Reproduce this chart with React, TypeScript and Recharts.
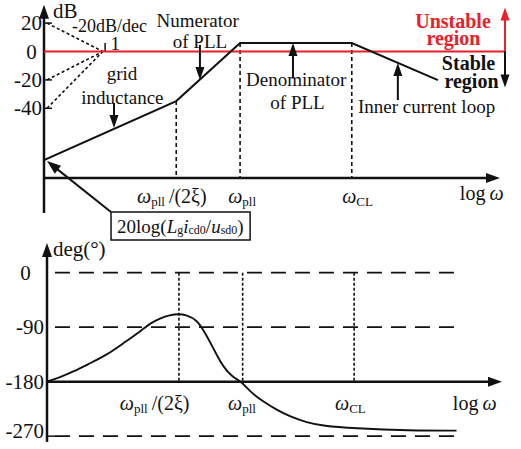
import React from 'react';
import { ComposedChart, Line, XAxis, YAxis, ReferenceLine, ReferenceDot, ReferenceArea } from 'recharts';

const FONT = '"Liberation Serif", "Times New Roman", serif';
const RED = '#e8202a';

// corner frequencies on the log-omega axis
const cornerLogW = [29, 43, 67.5];

// magnitude asymptote (dB)
const magLogW = [0, 29, 43, 67.5, 86.4];
const magDb = [-76.4, -34.9, 6, 6, -20.1];

// phase curve (deg)
const phaseLogW = [0, 2.86, 5.78, 9.45, 13.12, 16.77, 20.44, 22.64, 24.84, 27.03, 28.86, 30.7, 32.9, 34.35, 35.82, 37.3, 38.75, 40.59, 42.8, 44.6, 47.5, 50.5, 53.4, 57.1, 60.7, 67.25, 79.8, 90.0];
const phaseDeg = [-180, -172.7, -163.5, -149.6, -135.9, -116.6, -97.4, -83.6, -75.3, -69.9, -68.2, -69.9, -78.1, -94.6, -114, -135.9, -155.2, -171.7, -180, -196.4, -212.9, -226.6, -237.6, -247.5, -253.2, -257, -260.9, -260.9];

const dbTicks = [20, 0, -20, -40];
const degTicks = [0, -90, -180, -270];
const degGuides = [0, -90, -270];

const magData = magLogW.map((x, i) => ({ x, db: magDb[i] }));
const phaseData = phaseLogW.map((x, i) => ({ x, deg: phaseDeg[i] }));

const arrowShape = (color: string, width: number, L = 13, W = 4.5) => (p: any) => {
  const { x1, y1, x2, y2 } = p;
  const dx = x2 - x1, dy = y2 - y1;
  const len = Math.hypot(dx, dy) || 1;
  const ux = dx / len, uy = dy / len;
  const bx = x2 - ux * L, by = y2 - uy * L;
  const nx = -uy, ny = ux;
  return (
    <g>
      <line x1={x1} y1={y1} x2={bx + ux} y2={by + uy} stroke={color} strokeWidth={width} />
      <polygon points={`${x2},${y2} ${bx + nx * W},${by + ny * W} ${bx - nx * W},${by - ny * W}`} fill={color} />
    </g>
  );
};

const txt = (content: React.ReactNode, o: { size?: number; anchor?: string; bold?: boolean; color?: string } = {}) => (p: any) => (
  <text
    x={p.cx}
    y={p.cy}
    textAnchor={o.anchor || 'middle'}
    dominantBaseline="central"
    fontFamily={FONT}
    fontSize={o.size || 19}
    fontWeight={o.bold ? 'bold' : 'normal'}
    fill={o.color || '#111'}
  >
    {content}
  </text>
);

const Omega = ({ sub, suffix }: { sub: string; suffix?: string }) => (
  <>
    <tspan fontStyle="italic">ω</tspan>
    <tspan fontSize={13} dy={5}>{sub}</tspan>
    {suffix ? <tspan dy={-5}>{suffix}</tspan> : null}
  </>
);

const LogW = () => (
  <>
    <tspan>log{'\u2009'}</tspan>
    <tspan fontStyle="italic">ω</tspan>
  </>
);

const BoxText = () => (
  <>
    <tspan>20log(</tspan>
    <tspan fontStyle="italic">L</tspan>
    <tspan fontSize={12} dy={4}>g</tspan>
    <tspan fontStyle="italic" dy={-4}>i</tspan>
    <tspan fontSize={12} dy={4}>cd0</tspan>
    <tspan dy={-4}>/</tspan>
    <tspan fontStyle="italic">u</tspan>
    <tspan fontSize={12} dy={4}>sd0</tspan>
    <tspan dy={-4}>)</tspan>
  </>
);

const DbTick = (p: any) => {
  const v = p.payload.value;
  return (
    <text x={v === 0 ? p.x - 10.5 : p.x} y={p.y} textAnchor={v === 0 ? 'middle' : 'end'} dominantBaseline="central" fontFamily={FONT} fontSize={21} fill="#111">
      {v}
    </text>
  );
};

const DegTick = (p: any) => {
  const v = p.payload.value;
  return (
    <text x={v === 0 ? p.x - 19.5 : p.x - 1} y={v === -270 ? p.y - 5 : p.y} textAnchor={v === 0 ? 'middle' : 'end'} dominantBaseline="central" fontFamily={FONT} fontSize={21} fill="#111">
      {v}
    </text>
  );
};

export default function App() {
  const k = '#111';
  return (
    <div style={{ position: 'absolute', left: 0, top: 0, width: 521, height: 449, background: '#fff' }}>
      <div style={{ position: 'absolute', left: 0, top: 0 }}>
        <ComposedChart width={521} height={250} data={magData} margin={{ top: 4.64, right: 11.9, bottom: 72.1, left: 0 }}>
          <XAxis type="number" dataKey="x" domain={[0, 102]} allowDataOverflow hide />
          <YAxis type="number" domain={[-89, 33]} allowDataOverflow ticks={dbTicks} width={44} axisLine={false} tickLine={false} tickSize={0} tickMargin={2} tick={DbTick} interval={0} />
          {/* axes */}
          <ReferenceLine segment={[{ x: 0, y: -89 }, { x: 100, y: -89 }]} ifOverflow="visible" shape={arrowShape(k, 2.5, 14, 5)} />
          <ReferenceLine segment={[{ x: 0, y: -113.7 }, { x: 0, y: 33 }]} ifOverflow="visible" shape={arrowShape(k, 2.5, 14, 5)} />
          {[20, -20, -40].map((v) => (
            <ReferenceLine key={'t' + v} segment={[{ x: 0, y: v }, { x: 1.75, y: v }]} ifOverflow="visible" stroke={k} strokeWidth={1.5} />
          ))}
          {/* slope guide lines */}
          {[20, -20, -40].map((v) => (
            <ReferenceLine key={'g' + v} segment={[{ x: 0.66, y: v }, { x: 12.9, y: 0 }]} ifOverflow="visible" stroke={k} strokeWidth={1.6} strokeDasharray="3 2.5" />
          ))}
          <ReferenceLine segment={[{ x: 13.4, y: 0 }, { x: 13.4, y: 6 }]} ifOverflow="visible" stroke={k} strokeWidth={1.5} />
          {/* corner verticals */}
          <ReferenceLine segment={[{ x: cornerLogW[0], y: magDb[1] }, { x: cornerLogW[0], y: -89 }]} ifOverflow="visible" stroke={k} strokeWidth={1.6} strokeDasharray="4 3" />
          <ReferenceLine segment={[{ x: cornerLogW[1], y: magDb[2] }, { x: cornerLogW[1], y: -89 }]} ifOverflow="visible" stroke={k} strokeWidth={1.6} strokeDasharray="4 3" />
          <ReferenceLine segment={[{ x: cornerLogW[2], y: magDb[3] }, { x: cornerLogW[2], y: -89 }]} ifOverflow="visible" stroke={k} strokeWidth={1.6} strokeDasharray="4 3" />
          {/* 0 dB stability boundary */}
          <ReferenceLine segment={[{ x: 0, y: 0 }, { x: 101.3, y: 0 }]} ifOverflow="visible" stroke={RED} strokeWidth={2} />
          <ReferenceLine segment={[{ x: 101.1, y: 0 }, { x: 101.1, y: 31 }]} ifOverflow="visible" shape={arrowShape(RED, 2, 13, 4.5)} />
          <ReferenceLine segment={[{ x: 101.1, y: 0 }, { x: 101.1, y: -25.4 }]} ifOverflow="visible" shape={arrowShape(k, 2, 13, 4.5)} />
          <Line dataKey="db" type="linear" stroke={k} strokeWidth={2} dot={false} isAnimationActive={false} />
          {/* annotation arrows */}
          <ReferenceLine segment={[{ x: 34.2, y: 4.6 }, { x: 34.2, y: -20 }]} ifOverflow="visible" shape={arrowShape(k, 2, 13, 4.5)} />
          <ReferenceLine segment={[{ x: 15.35, y: -36.3 }, { x: 15.35, y: -53.9 }]} ifOverflow="visible" shape={arrowShape(k, 2, 13, 4.5)} />
          <ReferenceLine segment={[{ x: 54.6, y: -18.7 }, { x: 54.6, y: 6 }]} ifOverflow="visible" shape={arrowShape(k, 2, 13, 4.5)} />
          <ReferenceLine segment={[{ x: 77.6, y: -34.2 }, { x: 77.6, y: -8.1 }]} ifOverflow="visible" shape={arrowShape(k, 2, 13, 4.5)} />
          <ReferenceLine segment={[{ x: 14.69, y: -113 }, { x: 0.66, y: -77.1 }]} ifOverflow="visible" shape={arrowShape(k, 2, 14, 5)} />
          <ReferenceArea x1={14.7} x2={45.2} y1={-113} y2={-132.7} ifOverflow="visible" fill="#fff" fillOpacity={1} stroke={k} strokeWidth={1.5} />
          {/* texts */}
          <ReferenceDot x={2.0} y={28.5} r={1} ifOverflow="visible" shape={txt('dB', { size: 21, anchor: 'start' })} />
          <ReferenceDot x={6.14} y={18} r={1} ifOverflow="visible" shape={txt('-20dB/dec', { size: 18, anchor: 'start' })} />
          <ReferenceDot x={14.6} y={5.5} r={1} ifOverflow="visible" shape={txt('1', { size: 19, anchor: 'start' })} />
          <ReferenceDot x={33.7} y={21.5} r={1} ifOverflow="visible" shape={txt('Numerator')} />
          <ReferenceDot x={34.2} y={6.7} r={1} ifOverflow="visible" shape={txt('of PLL')} />
          <ReferenceDot x={17.1} y={-15.8} r={1} ifOverflow="visible" shape={txt('grid')} />
          <ReferenceDot x={17.2} y={-32.7} r={1} ifOverflow="visible" shape={txt('inductance')} />
          <ReferenceDot x={55.3} y={-20} r={1} ifOverflow="visible" shape={txt('Denominator')} />
          <ReferenceDot x={55.6} y={-35.6} r={1} ifOverflow="visible" shape={txt('of PLL')} />
          <ReferenceDot x={83.9} y={-38.4} r={1} ifOverflow="visible" shape={txt('Inner current loop')} />
          <ReferenceDot x={89.7} y={21.8} r={1} ifOverflow="visible" shape={txt('Unstable', { size: 20, bold: true, color: RED })} />
          <ReferenceDot x={89.8} y={9.3} r={1} ifOverflow="visible" shape={txt('region', { size: 20, bold: true, color: RED })} />
          <ReferenceDot x={93.1} y={-7.8} r={1} ifOverflow="visible" shape={txt('Stable', { size: 20, bold: true })} />
          <ReferenceDot x={93.75} y={-21} r={1} ifOverflow="visible" shape={txt('region', { size: 20, bold: true })} />
          <ReferenceDot x={20.4} y={-101.8} r={1} ifOverflow="visible" shape={txt(<Omega sub="pll" suffix={'\u2009/(2ξ)'} />, { size: 20, anchor: 'start' })} />
          <ReferenceDot x={40.4} y={-101.8} r={1} ifOverflow="visible" shape={txt(<Omega sub="pll" />, { size: 20, anchor: 'start' })} />
          <ReferenceDot x={65.4} y={-101.8} r={1} ifOverflow="visible" shape={txt(<Omega sub="CL" />, { size: 20, anchor: 'start' })} />
          <ReferenceDot x={91.2} y={-99.6} r={1} ifOverflow="visible" shape={txt(<LogW />, { size: 20, anchor: 'start' })} />
          <ReferenceDot x={29.9} y={-122.9} r={1} ifOverflow="visible" shape={txt(<BoxText />, { size: 19 })} />
        </ComposedChart>
      </div>
      <div style={{ position: 'absolute', left: 0, top: 230 }}>
        <ComposedChart width={521} height={219} data={phaseData} margin={{ top: 13.0, right: 9.9, bottom: 7.1, left: 0 }}>
          <XAxis type="number" dataKey="x" domain={[0, 102]} allowDataOverflow hide />
          <YAxis type="number" domain={[-279.5, 49]} allowDataOverflow ticks={degTicks} width={47} axisLine={false} tickLine={false} tickSize={0} tickMargin={2} tick={DegTick} interval={0} />
          {degGuides.map((v) => (
            <ReferenceLine key={'h' + v} segment={[{ x: 1.75, y: v }, { x: 90.5, y: v }]} ifOverflow="visible" stroke={k} strokeWidth={1.6} strokeDasharray="15 9" />
          ))}
          <ReferenceLine segment={[{ x: 0, y: -270 }, { x: 1.75, y: -270 }]} ifOverflow="visible" stroke={k} strokeWidth={1.5} />
          {cornerLogW.map((c) => (
            <ReferenceLine key={'v' + c} segment={[{ x: c, y: 0 }, { x: c, y: -180 }]} ifOverflow="visible" stroke={k} strokeWidth={1.6} strokeDasharray="3 2" />
          ))}
          <ReferenceLine segment={[{ x: 0, y: -180 }, { x: 100, y: -180 }]} ifOverflow="visible" shape={arrowShape(k, 2.5, 14, 5)} />
          <ReferenceLine segment={[{ x: 0, y: -279.5 }, { x: 0, y: 49 }]} ifOverflow="visible" shape={arrowShape(k, 2.5, 14, 5)} />
          <Line dataKey="deg" type="basis" stroke={k} strokeWidth={1.9} dot={false} isAnimationActive={false} />
          <ReferenceDot x={1.3} y={39.1} r={1} ifOverflow="visible" shape={txt('deg(°)', { size: 21, anchor: 'start' })} />
          <ReferenceDot x={16.0} y={-215.2} r={1} ifOverflow="visible" shape={txt(<Omega sub="pll" suffix={'\u2009/(2ξ)'} />, { size: 20, anchor: 'start' })} />
          <ReferenceDot x={39.8} y={-215.2} r={1} ifOverflow="visible" shape={txt(<Omega sub="pll" />, { size: 20, anchor: 'start' })} />
          <ReferenceDot x={63.3} y={-215.2} r={1} ifOverflow="visible" shape={txt(<Omega sub="CL" />, { size: 20, anchor: 'start' })} />
          <ReferenceDot x={89.2} y={-215.2} r={1} ifOverflow="visible" shape={txt(<LogW />, { size: 20, anchor: 'start' })} />
        </ComposedChart>
      </div>
    </div>
  );
}
